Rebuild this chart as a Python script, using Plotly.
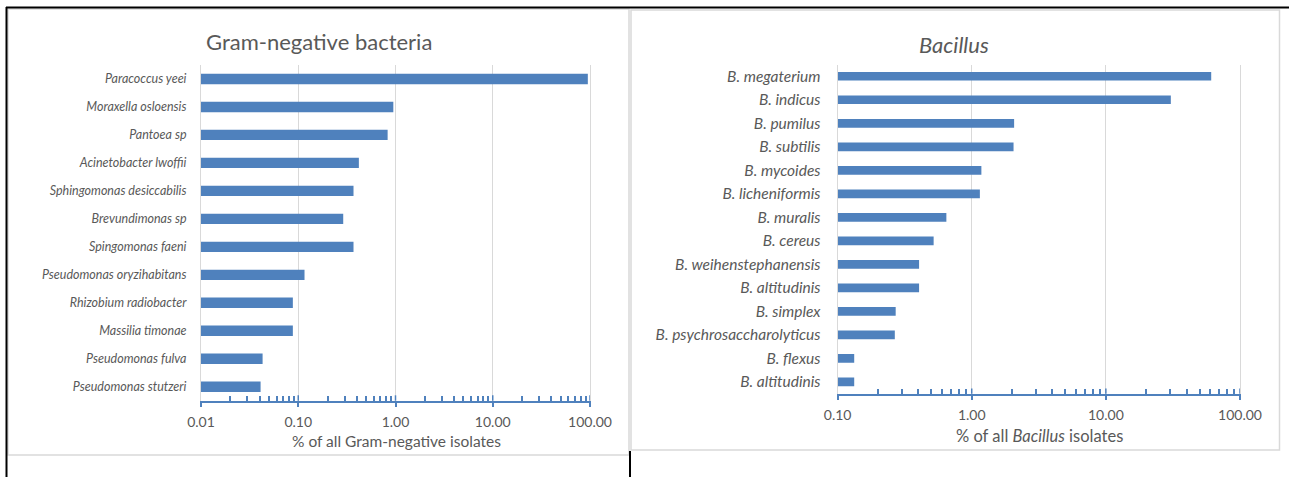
import plotly.graph_objects as go

# ---- data -------------------------------------------------------------
gram_neg_names = [
    "Paracoccus yeei", "Moraxella osloensis", "Pantoea sp", "Acinetobacter lwoffii",
    "Sphingomonas desiccabilis", "Brevundimonas sp", "Spingomonas faeni",
    "Pseudomonas oryzihabitans", "Rhizobium radiobacter", "Massilia timonae",
    "Pseudomonas fulva", "Pseudomonas stutzeri",
]
gram_neg_pct = [95.0, 0.95, 0.83, 0.42, 0.37, 0.29, 0.37, 0.116, 0.088, 0.088, 0.043, 0.041]

bacillus_names = [
    "B. megaterium", "B. indicus", "B. pumilus", "B. subtilis", "B. mycoides",
    "B. licheniformis", "B. muralis", "B. cereus", "B. weihenstephanensis",
    "B. altitudinis", "B. simplex", "B. psychrosaccharolyticus", "B. flexus",
    "B. altitudinis",
]
bacillus_pct = [61.0, 30.5, 2.07, 2.05, 1.18, 1.15, 0.647, 0.52, 0.405, 0.405,
                0.271, 0.267, 0.133, 0.133]

gram_neg_ticks = [0.01, 0.1, 1, 10, 100]
gram_neg_ticktext = ["0.01", "0.10", "1.00", "10.00", "100.00"]
bacillus_ticks = [0.1, 1, 10, 100]
bacillus_ticktext = ["0.10", "1.00", "10.00", "100.00"]

# ---- styling ----------------------------------------------------------
W, H = 1289, 477
BAR = "#4f81bd"
TXT = "#595959"
GRID = "#d9d9d9"
FONT = "Lato, Open Sans, sans-serif"


def fx(px):
    return px / W


def fy(py):
    return 1 - py / H


def minor_vals(major):
    out = []
    for d in major[:-1]:
        out += [d * k for k in range(2, 10)]
    return out


fig = go.Figure()

fig.add_trace(go.Bar(
    x=gram_neg_pct, y=list(range(len(gram_neg_names))), orientation="h",
    width=0.37, marker=dict(color=BAR, line=dict(width=0)),
    xaxis="x", yaxis="y", hoverinfo="x+text", text=gram_neg_names, textposition="none",
))
fig.add_trace(go.Bar(
    x=bacillus_pct, y=list(range(len(bacillus_names))), orientation="h",
    width=0.37, marker=dict(color=BAR, line=dict(width=0)),
    xaxis="x2", yaxis="y2", hoverinfo="x+text", text=bacillus_names, textposition="none",
))

xcommon = dict(
    type="log", showgrid=True, gridcolor=GRID, gridwidth=1,
    showline=True, linecolor=BAR, linewidth=1.5,
    ticks="outside", ticklen=5, tickcolor=BAR, tickwidth=1.5,
    tickfont=dict(family=FONT, size=14, color=TXT), ticklabelstandoff=3,
    tickmode="array", zeroline=False, fixedrange=True, automargin=False,
)
# the y-axis line (mirrored) doubles as the grid lines at both ends of the scale
ycommon = dict(
    showgrid=False, showline=True, mirror=True, linecolor=GRID, linewidth=1,
    zeroline=False, ticks="", tickmode="array", fixedrange=True, automargin=False,
)

fig.update_layout(
    width=W, height=H, autosize=False,
    margin=dict(l=0, r=0, t=0, b=0, pad=0),
    paper_bgcolor="white", plot_bgcolor="white",
    showlegend=False, bargap=0.6,
    xaxis=dict(
        xcommon, domain=[fx(201), fx(590)], range=[-2, 2], anchor="y",
        tickvals=gram_neg_ticks, ticktext=gram_neg_ticktext,
        minor=dict(tickmode="array", tickvals=minor_vals(gram_neg_ticks),
                   ticks="inside", ticklen=5, tickcolor=BAR, tickwidth=1.5,
                   showgrid=False),
    ),
    yaxis=dict(
        ycommon, domain=[fy(400.7), fy(65)], anchor="x",
        range=[len(gram_neg_names) - 0.5, -0.5],
        tickvals=list(range(len(gram_neg_names))), ticktext=gram_neg_names,
        tickfont=dict(family=FONT, size=12.5, color=TXT, style="italic"),
        ticklabelstandoff=11,
    ),
    xaxis2=dict(
        xcommon, domain=[fx(837.6), fx(1240)], range=[-1, 2], anchor="y2",
        tickvals=bacillus_ticks, ticktext=bacillus_ticktext,
        minor=dict(tickmode="array", tickvals=minor_vals(bacillus_ticks),
                   ticks="inside", ticklen=5, tickcolor=BAR, tickwidth=1.5,
                   showgrid=False),
    ),
    yaxis2=dict(
        ycommon, domain=[fy(393.7), fy(64.5)], anchor="x2",
        range=[len(bacillus_names) - 0.5, -0.5],
        tickvals=list(range(len(bacillus_names))), ticktext=bacillus_names,
        tickfont=dict(family=FONT, size=15.5, color=TXT, style="italic"),
        ticklabelstandoff=13,
    ),
)

# upward half of the crossing major ticks
cross = []
for axis_ref, yax_ref, ticks in (("x", "y", gram_neg_ticks), ("x2", "y2", bacillus_ticks)):
    for t in ticks[1:]:
        cross.append(dict(type="line", xref=axis_ref, yref=f"{yax_ref} domain",
                          x0=t, x1=t, y0=0, y1=0.016,
                          line=dict(color=BAR, width=1.5)))

# chart frames and surrounding table rules
shapes = [
    dict(type="rect", xref="paper", yref="paper",
         x0=fx(8), x1=fx(629), y0=fy(455), y1=fy(9),
         line=dict(color=GRID, width=1.5), layer="below"),
    dict(type="rect", xref="paper", yref="paper",
         x0=fx(631), x1=fx(1279.5), y0=fy(450), y1=fy(10),
         line=dict(color=GRID, width=1.5), layer="below"),
    dict(type="line", xref="paper", yref="paper",
         x0=fx(6), x1=1, y0=fy(7.5), y1=fy(7.5),
         line=dict(color="black", width=2)),
    dict(type="line", xref="paper", yref="paper",
         x0=fx(6.5), x1=fx(6.5), y0=fy(7), y1=0,
         line=dict(color="black", width=2)),
    dict(type="line", xref="paper", yref="paper",
         x0=fx(630), x1=fx(630), y0=fy(451), y1=0,
         line=dict(color="black", width=2)),
]
fig.update_layout(shapes=shapes + cross)

annotations = [
    dict(text="Gram-negative bacteria", x=fx(319), y=fy(42),
         font=dict(family=FONT, size=22, color=TXT)),
    dict(text="<i>Bacillus</i>", x=fx(954), y=fy(45),
         font=dict(family=FONT, size=22, color=TXT)),
    dict(text="% of all Gram-negative isolates", x=fx(396), y=fy(441),
         font=dict(family=FONT, size=15.5, color=TXT)),
    dict(text="% of all <i>Bacillus</i> isolates", x=fx(1039), y=fy(436),
         font=dict(family=FONT, size=16.5, color=TXT)),
]
for a in annotations:
    a.update(xref="paper", yref="paper", showarrow=False,
             xanchor="center", yanchor="middle")
fig.update_layout(annotations=annotations)

# the page itself adds no margin around the figure
fig.write_html(
    "out.html",
    post_script="document.body.style.margin='0';document.body.style.overflow='hidden';",
)
